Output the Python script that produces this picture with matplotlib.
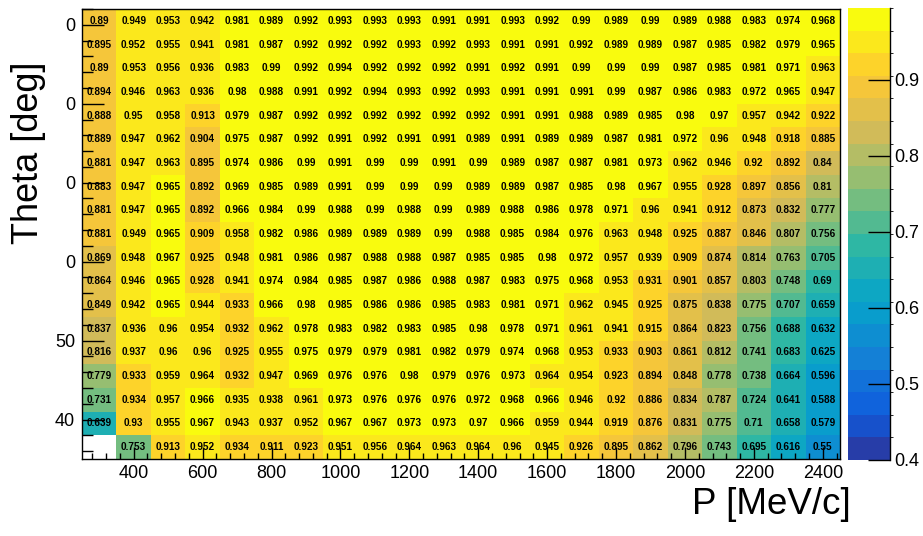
import matplotlib
matplotlib.use("Agg")
import matplotlib.pyplot as plt
import numpy as np
from matplotlib import font_manager
from matplotlib.colors import LinearSegmentedColormap, ListedColormap, BoundaryNorm
from matplotlib.ticker import MultipleLocator

# bin edges
p_edges = np.arange(250, 2451, 100)        # MeV/c, 22 bins
theta_edges = np.arange(35, 93, 3)         # deg, 19 bins

# efficiency per bin, rows from top (89-92 deg) down to bottom (35-38 deg)
efficiency = [
    [0.89, 0.949, 0.953, 0.942, 0.981, 0.989, 0.992, 0.993, 0.993, 0.993, 0.991, 0.991, 0.993, 0.992, 0.99, 0.989, 0.99, 0.989, 0.988, 0.983, 0.974, 0.968],
    [0.895, 0.952, 0.955, 0.941, 0.981, 0.987, 0.992, 0.992, 0.992, 0.993, 0.992, 0.993, 0.991, 0.991, 0.992, 0.989, 0.989, 0.987, 0.985, 0.982, 0.979, 0.965],
    [0.89, 0.953, 0.956, 0.936, 0.983, 0.99, 0.992, 0.994, 0.992, 0.992, 0.992, 0.991, 0.992, 0.991, 0.99, 0.99, 0.99, 0.987, 0.985, 0.981, 0.971, 0.963],
    [0.894, 0.946, 0.963, 0.936, 0.98, 0.988, 0.991, 0.992, 0.994, 0.993, 0.992, 0.993, 0.991, 0.991, 0.991, 0.99, 0.987, 0.986, 0.983, 0.972, 0.965, 0.947],
    [0.888, 0.95, 0.958, 0.913, 0.979, 0.987, 0.992, 0.992, 0.992, 0.992, 0.992, 0.992, 0.991, 0.991, 0.988, 0.989, 0.985, 0.98, 0.97, 0.957, 0.942, 0.922],
    [0.889, 0.947, 0.962, 0.904, 0.975, 0.987, 0.992, 0.991, 0.992, 0.991, 0.991, 0.989, 0.991, 0.989, 0.989, 0.987, 0.981, 0.972, 0.96, 0.948, 0.918, 0.885],
    [0.881, 0.947, 0.963, 0.895, 0.974, 0.986, 0.99, 0.991, 0.99, 0.99, 0.991, 0.99, 0.989, 0.987, 0.987, 0.981, 0.973, 0.962, 0.946, 0.92, 0.892, 0.84],
    [0.883, 0.947, 0.965, 0.892, 0.969, 0.985, 0.989, 0.991, 0.99, 0.99, 0.99, 0.989, 0.989, 0.987, 0.985, 0.98, 0.967, 0.955, 0.928, 0.897, 0.856, 0.81],
    [0.881, 0.947, 0.965, 0.892, 0.966, 0.984, 0.99, 0.988, 0.99, 0.988, 0.99, 0.989, 0.988, 0.986, 0.978, 0.971, 0.96, 0.941, 0.912, 0.873, 0.832, 0.777],
    [0.881, 0.949, 0.965, 0.909, 0.958, 0.982, 0.986, 0.989, 0.989, 0.989, 0.99, 0.988, 0.985, 0.984, 0.976, 0.963, 0.948, 0.925, 0.887, 0.846, 0.807, 0.756],
    [0.869, 0.948, 0.967, 0.925, 0.948, 0.981, 0.986, 0.987, 0.988, 0.988, 0.987, 0.985, 0.985, 0.98, 0.972, 0.957, 0.939, 0.909, 0.874, 0.814, 0.763, 0.705],
    [0.864, 0.946, 0.965, 0.928, 0.941, 0.974, 0.984, 0.985, 0.987, 0.986, 0.988, 0.987, 0.983, 0.975, 0.968, 0.953, 0.931, 0.901, 0.857, 0.803, 0.748, 0.69],
    [0.849, 0.942, 0.965, 0.944, 0.933, 0.966, 0.98, 0.985, 0.986, 0.986, 0.985, 0.983, 0.981, 0.971, 0.962, 0.945, 0.925, 0.875, 0.838, 0.775, 0.707, 0.659],
    [0.837, 0.936, 0.96, 0.954, 0.932, 0.962, 0.978, 0.983, 0.982, 0.983, 0.985, 0.98, 0.978, 0.971, 0.961, 0.941, 0.915, 0.864, 0.823, 0.756, 0.688, 0.632],
    [0.816, 0.937, 0.96, 0.96, 0.925, 0.955, 0.975, 0.979, 0.979, 0.981, 0.982, 0.979, 0.974, 0.968, 0.953, 0.933, 0.903, 0.861, 0.812, 0.741, 0.683, 0.625],
    [0.779, 0.933, 0.959, 0.964, 0.932, 0.947, 0.969, 0.976, 0.976, 0.98, 0.979, 0.976, 0.973, 0.964, 0.954, 0.923, 0.894, 0.848, 0.778, 0.738, 0.664, 0.596],
    [0.731, 0.934, 0.957, 0.966, 0.935, 0.938, 0.961, 0.973, 0.976, 0.976, 0.976, 0.972, 0.968, 0.966, 0.946, 0.92, 0.886, 0.834, 0.787, 0.724, 0.641, 0.588],
    [0.639, 0.93, 0.955, 0.967, 0.943, 0.937, 0.952, 0.967, 0.967, 0.973, 0.973, 0.97, 0.966, 0.959, 0.944, 0.919, 0.876, 0.831, 0.775, 0.71, 0.658, 0.579],
    [np.nan, 0.753, 0.913, 0.952, 0.934, 0.911, 0.923, 0.951, 0.956, 0.964, 0.963, 0.964, 0.96, 0.945, 0.926, 0.895, 0.862, 0.796, 0.743, 0.695, 0.616, 0.55],
]

p_ticks = np.arange(400, 2401, 200)
theta_ticks = [40, 50, 60, 70, 80, 90]
theta_tick_labels = ["40", "50", "0", "0", "0", "0"]
z_min, z_max = 0.4, 0.994
cbar_ticks = [0.4, 0.5, 0.6, 0.7, 0.8, 0.9]

plt.rcParams["font.family"] = ["Liberation Sans", "DejaVu Sans"]

# ROOT kBird palette, 20 contour levels
stops = [0.0, 0.125, 0.25, 0.375, 0.5, 0.625, 0.75, 0.875, 1.0]
red = [0.2082, 0.0592, 0.0780, 0.0232, 0.1802, 0.5301, 0.8186, 0.9956, 0.9764]
green = [0.1664, 0.3599, 0.5041, 0.6419, 0.7178, 0.7492, 0.7328, 0.7862, 0.9832]
blue = [0.5293, 0.8684, 0.8385, 0.7914, 0.6425, 0.4662, 0.3499, 0.1968, 0.0539]
bird = LinearSegmentedColormap.from_list("bird", list(zip(stops, zip(red, green, blue))), N=255)
nlev = 20
level_colors = [bird(int((i + 0.99) * 255 / nlev)) for i in range(nlev)]
cmap = ListedColormap(level_colors)
norm = BoundaryNorm(np.linspace(z_min, z_max, nlev + 1), nlev)

z = np.ma.masked_invalid(np.array(efficiency)[::-1])

fig = plt.figure(figsize=(9.23, 5.36), dpi=100)
ax = fig.add_axes([82 / 923, 1 - 459 / 536, 758 / 923, 450 / 536])
mesh = ax.pcolormesh(p_edges, theta_edges, z, cmap=cmap, norm=norm)

pc = 0.5 * (p_edges[:-1] + p_edges[1:])
tc = 0.5 * (theta_edges[:-1] + theta_edges[1:])
for i in range(len(tc)):
    for j in range(len(pc)):
        v = z[i, j]
        if np.ma.is_masked(v):
            continue
        ax.text(pc[j], tc[i], f"{v:g}", ha="center", va="center",
                fontsize=7.2, fontweight="bold", color="black")

ax.set_xlim(p_edges[0], p_edges[-1])
ax.set_ylim(theta_edges[0], theta_edges[-1])
ax.set_xticks(p_ticks)
ax.set_xticklabels([str(t) for t in p_ticks], fontsize=13)
ax.xaxis.set_minor_locator(MultipleLocator(40))
ax.set_yticks(theta_ticks)
ax.set_yticklabels(theta_tick_labels, fontsize=13)
ax.yaxis.set_minor_locator(MultipleLocator(2))
ax.tick_params(axis="x", which="major", direction="in", length=8.6, width=1, pad=4)
ax.tick_params(axis="x", which="minor", direction="in", length=4.3, width=1)
ax.tick_params(axis="y", which="major", direction="in", length=16, width=1, pad=5)
ax.tick_params(axis="y", which="minor", direction="in", length=8, width=1)
for s in ax.spines.values():
    s.set_linewidth(1)

fig.text(29 / 923, 1 - 153 / 536, "Theta [deg]", rotation=90, ha="center", va="center", fontsize=26)
fig.text(771 / 923, 1 - 505 / 536, "P [MeV/c]", ha="center", va="center", fontsize=26.5)

cax = fig.add_axes([848 / 923, 1 - 460 / 536, 42 / 923, 452 / 536])
cb = fig.colorbar(mesh, cax=cax, ticks=cbar_ticks)
cb.outline.set_visible(False)
cax.plot([1, 1], [0, 1], transform=cax.transAxes, color="black", lw=1, clip_on=False)
cax.tick_params(axis="y", direction="in", length=16, width=1, pad=3, labelsize=13)
cax.set_yticklabels([f"{t:g}" for t in cbar_ticks])

fig.savefig("out.png", dpi=100)
